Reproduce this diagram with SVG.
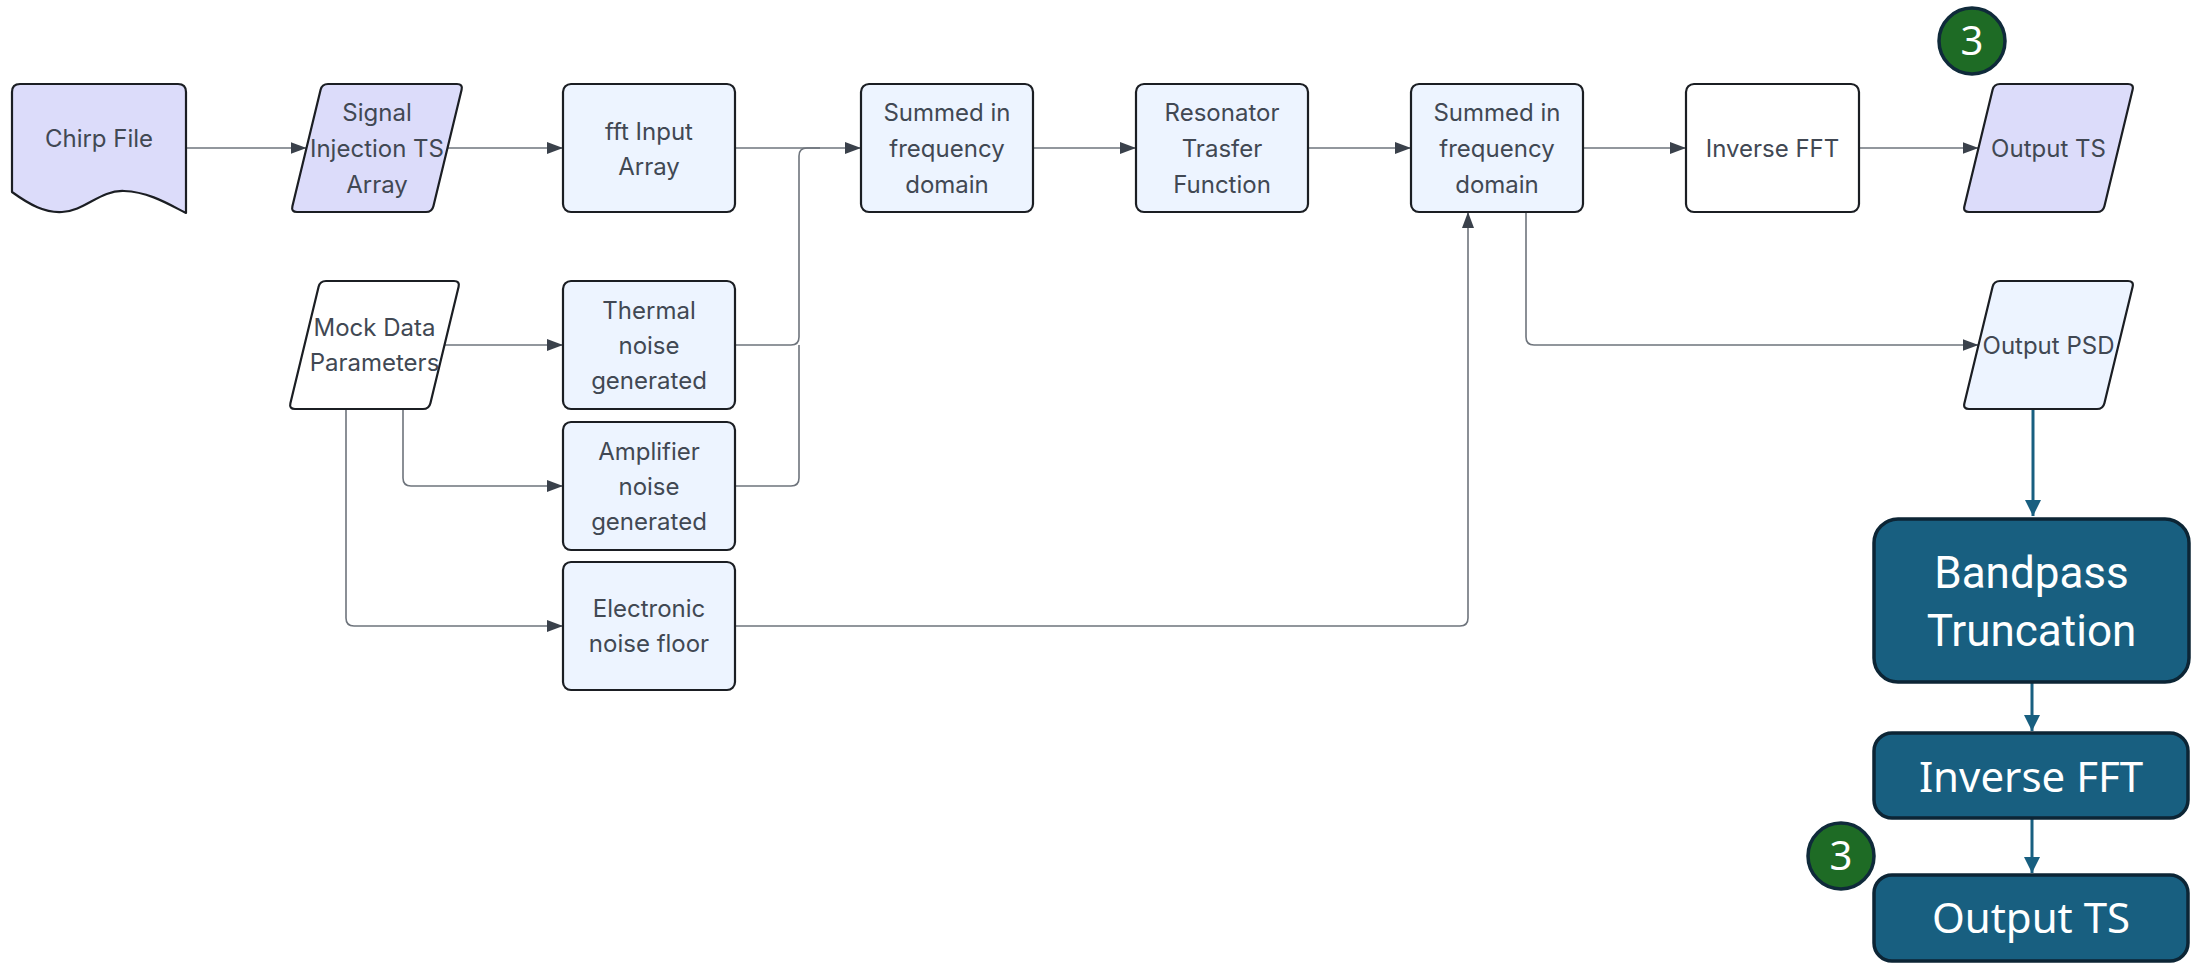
<svg xmlns="http://www.w3.org/2000/svg" width="2200" height="964" viewBox="0 0 2200 964">
<defs>
<style>
.n{stroke:#1b1e23;stroke-width:2.2;stroke-linejoin:round}
.lb{fill:#edf4ff}
.lv{fill:#dcdcfa}
.wh{fill:#ffffff}
.t{font-family:Inter,"Liberation Sans",sans-serif;font-size:24px;fill:#414853;text-anchor:middle}
.c{fill:none;stroke:#6e747c;stroke-width:1.6}
.b{fill:none;stroke:#185f80;stroke-width:3}
.bb{fill:#185f80;stroke:#0c2535;stroke-width:3.5}
.bt{font-family:"Noto Sans","Open Sans",sans-serif;font-size:42px;fill:#ffffff;text-anchor:middle}
.bt2{font-family:Roboto,"Noto Sans",sans-serif;font-size:44px;fill:#ffffff;text-anchor:middle}
.bd{fill:#1e6b25;stroke:#0f2a3a;stroke-width:3.5}
.bdt{font-family:"Noto Sans",sans-serif;font-size:40px;fill:#ffffff;text-anchor:middle}
</style>
<marker id="ah" markerUnits="userSpaceOnUse" markerWidth="16" markerHeight="12" refX="16" refY="6" orient="auto">
<path d="M0,0 L16,6 L0,12 Z" fill="#3a414b"/>
</marker>
<marker id="ab" markerUnits="userSpaceOnUse" markerWidth="16" markerHeight="16" refX="16" refY="8" orient="auto">
<path d="M0,0 L16,8 L0,16 Z" fill="#185f80"/>
</marker>
</defs>
<rect width="2200" height="964" fill="#ffffff"/>

<g id="connectors">
<path class="c" d="M186,148 H306.5" marker-end="url(#ah)"/>
<path class="c" d="M447.5,148 H563" marker-end="url(#ah)"/>
<path class="c" d="M735,148 H861" marker-end="url(#ah)"/>
<path class="c" d="M735,345 H791 Q799,345 799,337 V156 Q799,148 807,148 H820"/>
<path class="c" d="M735,486 H791 Q799,486 799,478 V345"/>
<path class="c" d="M1033,148 H1136" marker-end="url(#ah)"/>
<path class="c" d="M1308,148 H1411" marker-end="url(#ah)"/>
<path class="c" d="M1583,148 H1686" marker-end="url(#ah)"/>
<path class="c" d="M1859,148 H1978.5" marker-end="url(#ah)"/>
<path class="c" d="M1526,212 V337 Q1526,345 1534,345 H1978.5" marker-end="url(#ah)"/>
<path class="c" d="M735,626 H1460 Q1468,626 1468,618 V212" marker-end="url(#ah)"/>
<path class="c" d="M444.5,345 H563" marker-end="url(#ah)"/>
<path class="c" d="M403,409 V478 Q403,486 411,486 H563" marker-end="url(#ah)"/>
<path class="c" d="M346,409 V618 Q346,626 354,626 H563" marker-end="url(#ah)"/>
<path class="b" d="M2033,409 V516" marker-end="url(#ab)"/>
<path class="b" d="M2032,682 V731" marker-end="url(#ab)"/>
<path class="b" d="M2032,818 V873" marker-end="url(#ab)"/>
</g>

<g id="chirp-file">
<path class="n lv" d="M20,84 H178 Q186,84 186,92 V213 C170,205 150,192 124,191 C100,190 85,211 62,212 C45,213 30,205 12,192 V92 Q12,84 20,84 Z"/>
<text class="t" x="99" y="147">Chirp File</text>
</g>

<g id="signal-injection">
<path class="n lv" d="M328,84 H457 Q463,84 461.6,89.8 L433.4,206.2 Q432,212 426,212 H297 Q291,212 292.4,206.2 L320.6,89.8 Q322,84 328,84 Z"/>
<text class="t" x="377" y="121">Signal</text>
<text class="t" x="377" y="157">Injection TS</text>
<text class="t" x="377" y="193">Array</text>
</g>

<g id="fft-input">
<rect class="n lb" x="563" y="84" width="172" height="128" rx="8"/>
<text class="t" x="649" y="139.5">fft Input</text>
<text class="t" x="649" y="174.5">Array</text>
</g>

<g id="summed-1">
<rect class="n lb" x="861" y="84" width="172" height="128" rx="8"/>
<text class="t" x="947" y="121">Summed in</text>
<text class="t" x="947" y="157">frequency</text>
<text class="t" x="947" y="193">domain</text>
</g>

<g id="resonator">
<rect class="n lb" x="1136" y="84" width="172" height="128" rx="8"/>
<text class="t" x="1222" y="121">Resonator</text>
<text class="t" x="1222" y="157">Trasfer</text>
<text class="t" x="1222" y="193">Function</text>
</g>

<g id="summed-2">
<rect class="n lb" x="1411" y="84" width="172" height="128" rx="8"/>
<text class="t" x="1497" y="121">Summed in</text>
<text class="t" x="1497" y="157">frequency</text>
<text class="t" x="1497" y="193">domain</text>
</g>

<g id="inverse-fft-1">
<rect class="n wh" x="1686" y="84" width="173" height="128" rx="8"/>
<text class="t" x="1772.5" y="157">Inverse FFT</text>
</g>

<g id="output-ts-1">
<path class="n lv" d="M2000,84 H2128 Q2134,84 2132.6,89.8 L2104.4,206.2 Q2103,212 2097,212 H1969 Q1963,212 1964.4,206.2 L1992.6,89.8 Q1994,84 2000,84 Z"/>
<text class="t" x="2048.5" y="157">Output TS</text>
</g>

<g id="badge-top">
<circle class="bd" cx="1972" cy="41" r="33"/>
<text class="bdt" x="1972" y="55">3</text>
</g>

<g id="mock-data">
<path class="n wh" d="M326,281 H454 Q460,281 458.6,286.8 L430.4,403.2 Q429,409 423,409 H295 Q289,409 290.4,403.2 L318.6,286.8 Q320,281 326,281 Z"/>
<text class="t" x="374.5" y="336">Mock Data</text>
<text class="t" x="374.5" y="371">Parameters</text>
</g>

<g id="thermal-noise">
<rect class="n lb" x="563" y="281" width="172" height="128" rx="8"/>
<text class="t" x="649" y="319">Thermal</text>
<text class="t" x="649" y="354">noise</text>
<text class="t" x="649" y="389">generated</text>
</g>

<g id="amplifier-noise">
<rect class="n lb" x="563" y="422" width="172" height="128" rx="8"/>
<text class="t" x="649" y="460">Amplifier</text>
<text class="t" x="649" y="495">noise</text>
<text class="t" x="649" y="530">generated</text>
</g>

<g id="electronic-noise">
<rect class="n lb" x="563" y="562" width="172" height="128" rx="8"/>
<text class="t" x="649" y="617">Electronic</text>
<text class="t" x="649" y="652">noise floor</text>
</g>

<g id="output-psd">
<path class="n lb" d="M2000,281 H2128 Q2134,281 2132.6,286.8 L2104.4,403.2 Q2103,409 2097,409 H1969 Q1963,409 1964.4,403.2 L1992.6,286.8 Q1994,281 2000,281 Z"/>
<text class="t" x="2048.5" y="354">Output PSD</text>
</g>

<g id="bandpass">
<rect class="bb" x="1874" y="519" width="315" height="163" rx="24"/>
<text class="bt2" x="2031.5" y="588">Bandpass</text>
<text class="bt2" x="2031.5" y="646">Truncation</text>
</g>

<g id="inverse-fft-2">
<rect class="bb" x="1874" y="733" width="314" height="85" rx="18"/>
<text class="bt" x="2031" y="792">Inverse FFT</text>
</g>

<g id="output-ts-2">
<rect class="bb" x="1874" y="875" width="314" height="86" rx="18"/>
<text class="bt" x="2031" y="933">Output TS</text>
</g>

<g id="badge-bottom">
<circle class="bd" cx="1841" cy="856" r="33"/>
<text class="bdt" x="1841" y="870">3</text>
</g>
</svg>
